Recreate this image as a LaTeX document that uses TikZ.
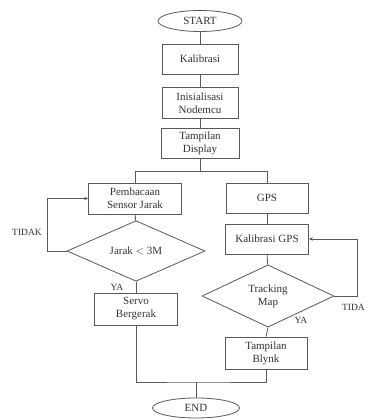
\documentclass[tikz,border=0pt]{standalone}
\usepackage{fontspec}
\setmainfont{Liberation Serif}
\usetikzlibrary{shapes.geometric,arrows.meta}
\begin{document}
\begin{tikzpicture}[x=1pt,y=-1pt,
  every node/.style={font=\fontsize{11}{13}\selectfont, text=black!80, align=center},
  line/.style={draw=black!65, line width=0.8pt},
  procbox/.style={line, rectangle, inner sep=1pt, minimum width=78pt, minimum height=30pt},
  decide/.style={line, diamond, inner sep=0pt, minimum width=136pt, minimum height=52pt},
  term/.style={line, ellipse, inner sep=0pt, minimum width=84pt, minimum height=21pt},
  flow/.style={line},
  back/.style={line, -{Stealth[length=4pt,width=3.5pt]}},
  lbl/.style={font=\fontsize{9.5}{11}\selectfont}]
\useasboundingbox (0,0) rectangle (366,419);
\fill[white] (0,0) rectangle (366,419);
\node[term] (start) at (200,21) {START};
\node[procbox, minimum width=76pt] (kal) at (200,59) {Kalibrasi};
\node[procbox, minimum width=76pt, minimum height=31pt] (init) at (200,103) {Inisialisasi\\Nodemcu};
\node[procbox] (disp) at (200,143) {Tampilan\\Display};
\coordinate (split) at (200,171);
\node[procbox, minimum width=93pt, minimum height=31pt] (pemb) at (135,198.5) {Pembacaan\\Sensor Jarak};
\node[decide, minimum width=138pt] (d1) at (136,251) {Jarak $<$ 3M};
\node[procbox, minimum width=83pt, minimum height=32pt] (servo) at (136,309) {Servo\\Bergerak};
\node[procbox, minimum width=82pt] (gps) at (267,198) {GPS};
\node[procbox, minimum width=83pt] (kgps) at (267,239) {Kalibrasi GPS};
\node[decide, minimum width=132pt, minimum height=54pt] (d2) at (268,296) {Tracking\\Map};
\node[procbox, minimum width=82pt, minimum height=32pt] (blynk) at (266,353) {Tampilan\\Blynk};
\coordinate (merge) at (196,382);
\node[term, minimum width=87pt, minimum height=20pt] (endn) at (196,408) {END};
\draw[flow] (start) -- (kal);
\draw[flow] (kal) -- (init);
\draw[flow] (init) -- (disp);
\draw[flow] (disp.south) -- (split);
\draw[flow] (pemb.north) -- (pemb.north |- split) -- (gps.north |- split) -- (gps.north);
\draw[flow] (pemb) -- (d1);
\draw[flow] (d1.south) -- (servo.north);
\draw[back] (d1.west) -- ++(-19,0) |- (pemb.west);
\draw[flow] (gps) -- (kgps);
\draw[flow] (kgps) -- (d2);
\draw[flow] (d2.south) -- (blynk.north);
\draw[back] (d2.east) -- ++(23,0) |- (kgps.east);
\draw[flow] (servo.south) |- (merge) -| (blynk.south);
\draw[flow] (merge) -- (endn.north);
\node[lbl] (t1) at (27,232) {TIDAK};
\node[lbl] (y1) at (117,287) {YA};
\node[lbl, anchor=east, inner sep=1pt] (t2) at (366,307) {TIDA};
\node[lbl] (y2) at (301,320) {YA};
\end{tikzpicture}
\end{document}
